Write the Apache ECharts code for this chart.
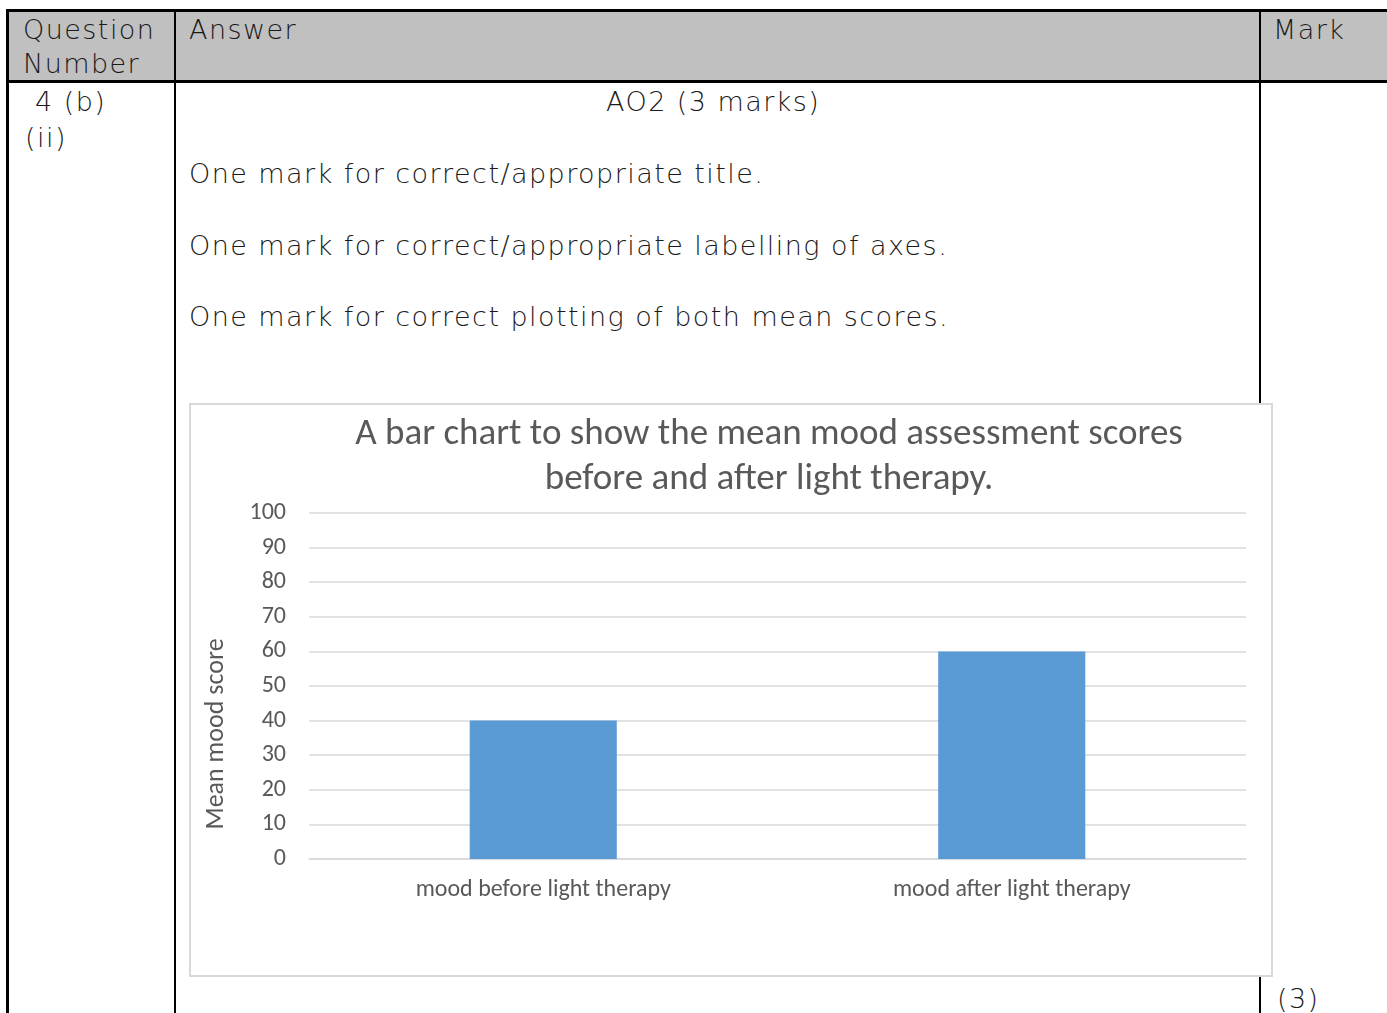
<!DOCTYPE html>
<html>
<head>
    <title>4 (b) (ii)</title>
    <meta charset="utf-8">
    <style>
        body {
            margin: 0;
            padding: 0;
            background: #fff;
            width: 1387px;
            height: 1013px;
            overflow: hidden;
            position: relative;
            font-family: "DejaVu Sans", sans-serif;
            color: #1a1a1a;
        }
        .line { position: absolute; background: #000; }
        .head-bg {
            position: absolute;
            left: 8px; top: 11px;
            width: 1379px; height: 70px;
            background: #c0c0c0;
        }
        .txt {
            position: absolute;
            font-size: 27px;
            line-height: 35px;
            white-space: pre;
            font-weight: 300;
            letter-spacing: 1.45px;
        }
        .chart-box {
            position: absolute;
            left: 189px; top: 403px;
            width: 1084px; height: 574px;
            box-sizing: border-box;
            border: 2px solid #d9d9d9;
            background: #fff;
        }
        #chart { width: 100%; height: 100%; }
    </style>
</head>
<body>
    <script src="https://cdn.jsdelivr.net/npm/echarts@6.0.0/dist/echarts.min.js"></script>

    <div class="head-bg"></div>
    <div class="line" style="left:6px;top:9px;width:1381px;height:3px;"></div>
    <div class="line" style="left:6px;top:80px;width:1381px;height:3px;"></div>
    <div class="line" style="left:6px;top:9px;width:3px;height:1004px;"></div>
    <div class="line" style="left:174px;top:9px;width:2px;height:1004px;"></div>
    <div class="line" style="left:1259px;top:9px;width:2px;height:1004px;"></div>

    <div class="txt" style="left:23px;top:12px;">Question</div>
    <div class="txt" style="left:23px;top:46px;">Number</div>
    <div class="txt" style="left:189px;top:12px;">Answer</div>
    <div class="txt" style="left:1273px;top:12px;">Mark</div>

    <div class="txt" style="left:25px;top:84px;"> 4 (b)</div>
    <div class="txt" style="left:25px;top:120px;">(ii)</div>
    <div class="txt" style="left:606px;top:84px;">AO2 (3 marks)</div>
    <div class="txt" style="left:189px;top:156px;">One mark for correct/appropriate title.</div>
    <div class="txt" style="left:189px;top:228px;">One mark for correct/appropriate labelling of axes.</div>
    <div class="txt" style="left:189px;top:299px;">One mark for correct plotting of both mean scores.</div>
    <div class="txt" style="left:1277px;top:981px;">(3)</div>

    <div class="chart-box"><div id="chart"></div></div>

    <script>
        // chart data
        const categories = ['mood before light therapy', 'mood after light therapy'];
        const meanScores = [40, 60];
        const yTicks = [0, 10, 20, 30, 40, 50, 60, 70, 80, 90, 100];

        const titleText = 'A bar chart to show the mean mood assessment scores\nbefore and after light therapy.';
        const yName = 'Mean mood score';

        const grey = '#595959';
        const gridGrey = '#d9d9d9';
        const chartFont = 'Carlito, "Open Sans", sans-serif';

        let chart = echarts.init(document.getElementById('chart'));
        chart.setOption({
            animation: false,
            textStyle: { fontFamily: chartFont },
            title: {
                text: titleText,
                left: 578,
                top: 7,
                padding: 0,
                textAlign: 'center',
                textStyle: {
                    fontFamily: chartFont,
                    fontSize: 37,
                    fontWeight: 'normal',
                    color: grey,
                    lineHeight: 45
                }
            },
            grid: { left: 118, right: 25, top: 108, bottom: 116, outerBoundsMode: 'none', containLabel: false },
            xAxis: {
                type: 'category',
                data: categories,
                axisLine: { lineStyle: { color: gridGrey, width: 1.5 } },
                axisTick: { show: false },
                axisLabel: {
                    color: grey,
                    fontSize: 24,
                    fontFamily: chartFont,
                    margin: 19
                }
            },
            yAxis: {
                type: 'value',
                min: yTicks[0],
                max: yTicks[yTicks.length - 1],
                interval: yTicks[1] - yTicks[0],
                name: yName,
                nameLocation: 'middle',
                nameGap: 80,
                nameRotate: 90,
                nameTextStyle: {
                    color: grey,
                    fontSize: 26,
                    fontFamily: chartFont,
                    padding: [0, 96, 0, 0]
                },
                axisLine: { show: false },
                axisTick: { show: false },
                axisLabel: {
                    color: grey,
                    fontSize: 24,
                    fontFamily: chartFont,
                    margin: 23
                },
                splitLine: { lineStyle: { color: gridGrey, width: 1.5 } }
            },
            series: [{
                type: 'bar',
                data: meanScores,
                barWidth: '31.4%',
                itemStyle: { color: '#5b9bd5' }
            }]
        });
    </script>
</body>
</html>
